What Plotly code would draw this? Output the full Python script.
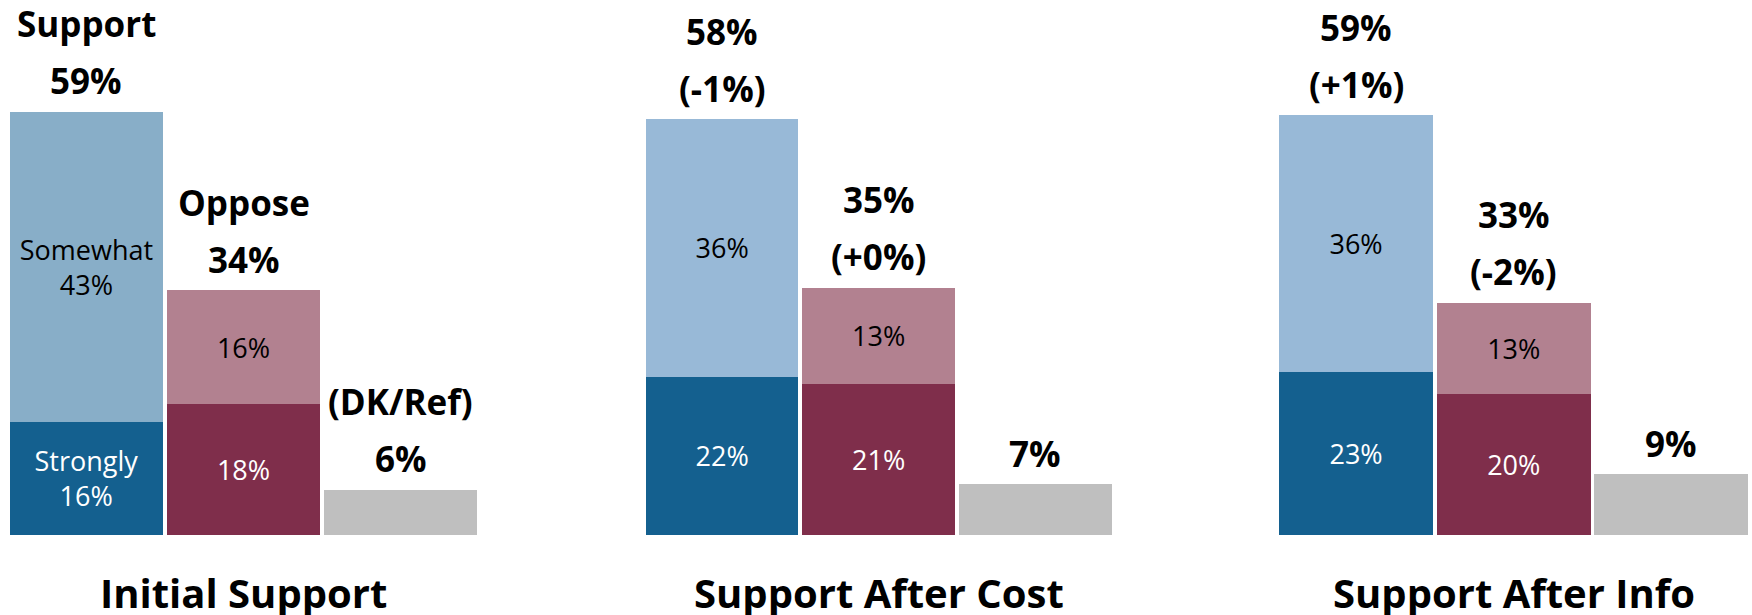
import plotly.graph_objects as go

# ---- data ----
groups = ["Initial Support", "Support After Cost", "Support After Info"]
# bar heights (unrounded survey shares)
strongly_support = [15.8, 22.1, 22.7]
somewhat_support = [43.2, 35.9, 35.8]
strongly_oppose = [18.2, 21.1, 19.6]
somewhat_oppose = [15.9, 13.4, 12.8]
dk_ref = [6.3, 7.1, 8.5]
# printed labels
support_top = [["Support", "59%"], ["58%", "(-1%)"], ["59%", "(+1%)"]]
oppose_top = [["Oppose", "34%"], ["35%", "(+0%)"], ["33%", "(-2%)"]]
dk_top = [["(DK/Ref)", "6%"], ["7%"], ["9%"]]
strong_lbl = [["Strongly<br>16%", "18%"], ["22%", "21%"], ["23%", "20%"]]
some_lbl = [["Somewhat<br>43%", "16%"], ["36%", "13%"], ["36%", "13%"]]

# ---- styles ----
C_STRONG_SUP = "#14608F"
C_SOME_SUP = ["#88AEC8", "#98B9D7", "#98B9D7"]
C_STRONG_OPP = "#7F2E4B"
C_SOME_OPP = "#B28190"
C_DK = "#BFBFBF"
FONT = "Open Sans"
domains = [[0.0045, 0.2735], [0.3675, 0.6355], [0.729, 0.999]]

fig = go.Figure()
annotations = []
for g in range(3):
    xa = "x" if g == 0 else f"x{g+1}"
    fig.add_trace(go.Bar(
        x=[0, 1], y=[strongly_support[g], strongly_oppose[g]], xaxis=xa, yaxis="y",
        marker=dict(color=[C_STRONG_SUP, C_STRONG_OPP], line=dict(width=0)),
        text=strong_lbl[g], textposition="inside", insidetextanchor="middle",
        textfont=dict(family=FONT, size=27, color="white"), showlegend=False,
        hoverinfo="skip"))
    fig.add_trace(go.Bar(
        x=[0, 1], y=[somewhat_support[g], somewhat_oppose[g]], xaxis=xa, yaxis="y",
        marker=dict(color=[C_SOME_SUP[g], C_SOME_OPP], line=dict(width=0)),
        text=some_lbl[g], textposition="inside", insidetextanchor="middle",
        textfont=dict(family=FONT, size=27, color="black"), showlegend=False,
        hoverinfo="skip"))
    fig.add_trace(go.Bar(
        x=[2], y=[dk_ref[g]], xaxis=xa, yaxis="y",
        marker=dict(color=C_DK, line=dict(width=0)), showlegend=False,
        hoverinfo="skip"))

    sup_total = strongly_support[g] + somewhat_support[g]
    opp_total = strongly_oppose[g] + somewhat_oppose[g]
    for xi, total, lines in [(0, sup_total, support_top[g]),
                             (1, opp_total, oppose_top[g]),
                             (2, dk_ref[g], dk_top[g])]:
        n = len(lines)
        for k, line in enumerate(lines):
            shift = 31 + 57 * (n - 1 - k)
            annotations.append(dict(
                x=xi, y=total, xref=xa, yref="y", text=f"<b>{line}</b>",
                showarrow=False, yanchor="middle", yshift=shift,
                font=dict(family=FONT, size=35, color="black")))
    annotations.append(dict(
        x=1, y=0, xref=xa, yref="paper", text=f"<b>{groups[g]}</b>",
        showarrow=False, yanchor="middle", yshift=-57,
        font=dict(family=FONT, size=40, color="black")))

layout = dict(
    width=1752, height=615,
    margin=dict(l=0, r=0, t=0, b=80),
    barmode="stack", bargap=0.024,
    plot_bgcolor="white", paper_bgcolor="white",
    yaxis=dict(range=[0, 74.6], visible=False, anchor="x"),
    annotations=annotations,
)
for g in range(3):
    key = "xaxis" if g == 0 else f"xaxis{g+1}"
    layout[key] = dict(domain=domains[g], range=[-0.5, 2.5], visible=False,
                       anchor="y")
fig.update_layout(**layout)
fig.write_html("out.html", config={"displayModeBar": False},
               post_script="document.body.style.margin='0';"
                           "document.body.style.overflow='hidden';")
